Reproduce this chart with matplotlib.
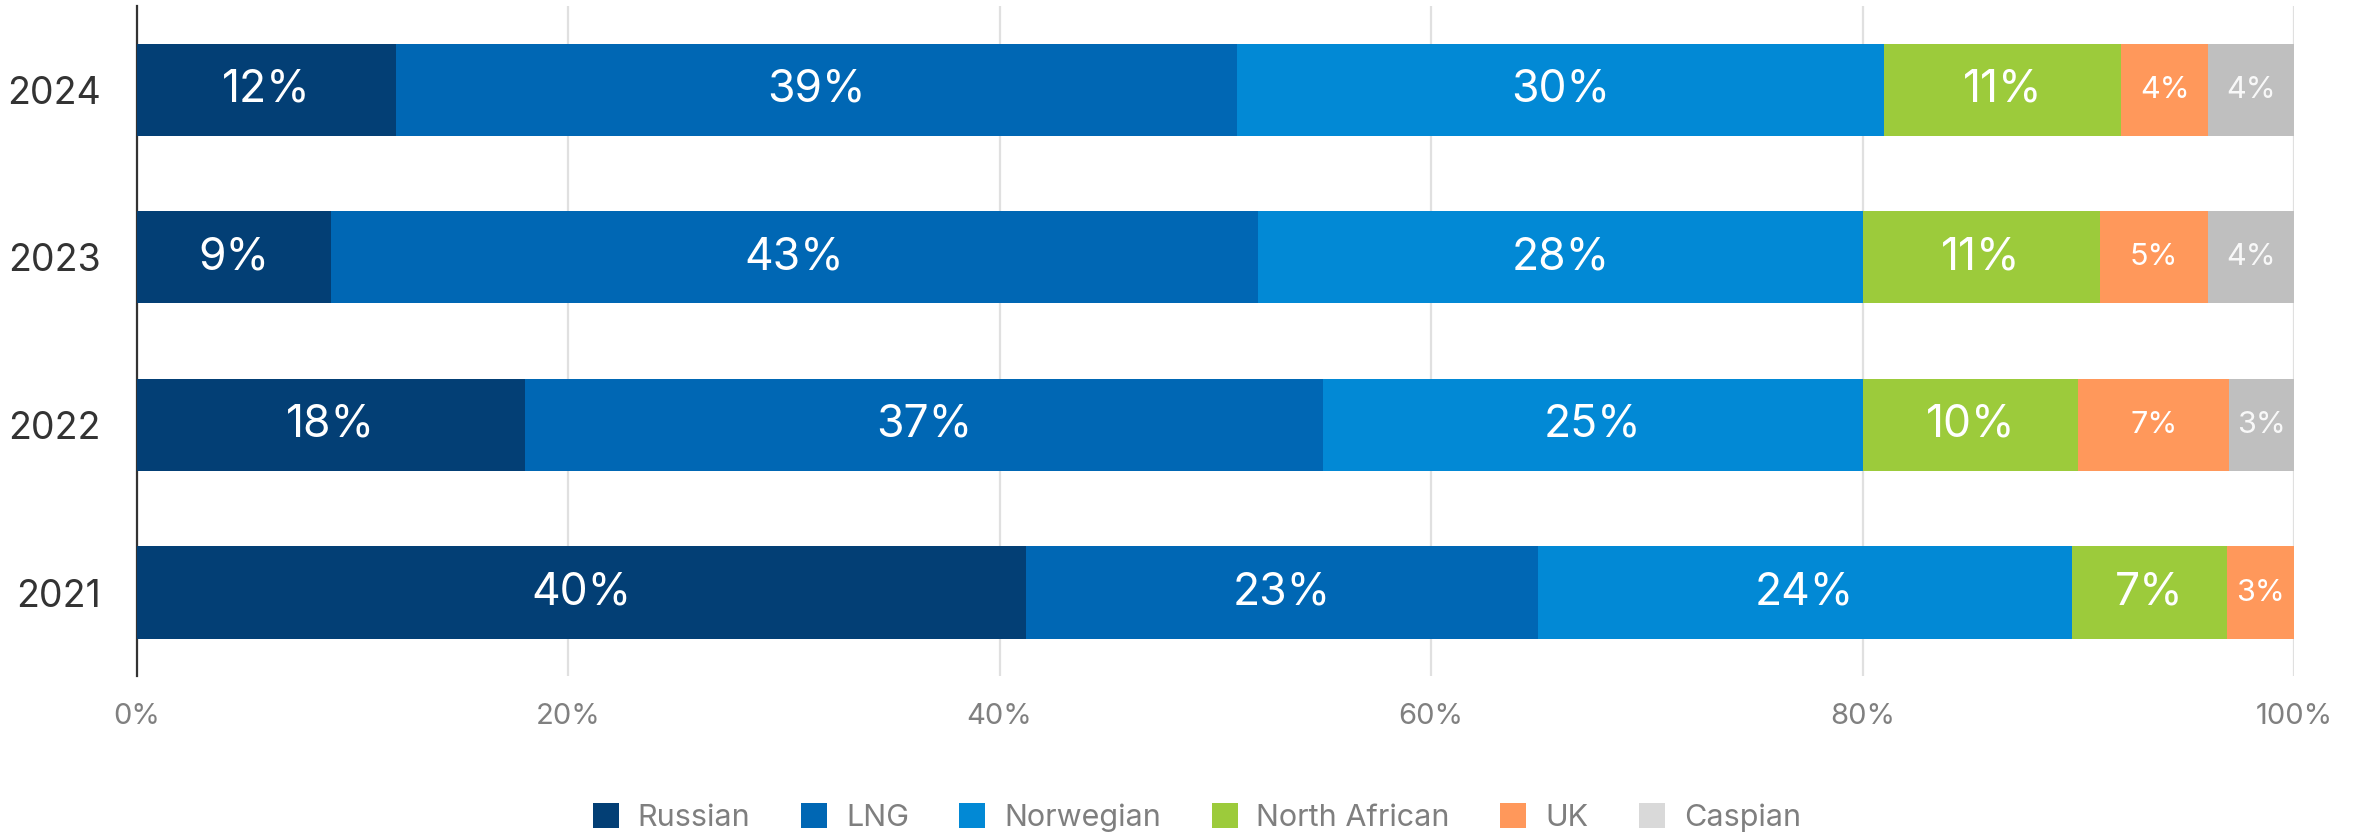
import numpy as np
import matplotlib.pyplot as plt
from matplotlib.patches import Patch
from matplotlib.ticker import PercentFormatter

# Data: share of gas supply by source (labels as published, bars normalised to 100%)
years = ['2021', '2022', '2023', '2024']
sources = ['Russian', 'LNG', 'Norwegian', 'North African', 'UK', 'Caspian']
russian = [40, 18, 9, 12]
lng = [23, 37, 43, 39]
norwegian = [24, 25, 28, 30]
north_african = [7, 10, 11, 11]
uk = [3, 7, 5, 4]
caspian = [0, 3, 4, 4]

bar_colors = ['#033f75', '#0067b4', '#0289d5', '#9ccb3b', '#ff985b', '#bfbfbf']
legend_colors = ['#033f75', '#0067b4', '#0289d5', '#9ccb3b', '#ff985b', '#d9d9d9']
small_label_sources = ['UK', 'Caspian']


def main():
    plt.rcParams['font.family'] = ['Inter', 'DejaVu Sans']

    series = [russian, lng, norwegian, north_african, uk, caspian]
    values = np.array(series, dtype=float)
    shares = values / values.sum(axis=0) * 100

    fig = plt.figure(figsize=(11.78, 4.18), dpi=200)
    ax = fig.add_axes([0.058, 0.191, 0.9157, 0.802])

    y = np.arange(len(years))
    left = np.zeros(len(years))
    for name, raw, share, color in zip(sources, values, shares, bar_colors):
        ax.barh(y, share, left=left, height=0.55, color=color, zorder=3)
        small = name in small_label_sources
        for yi, (r, s, l) in enumerate(zip(raw, share, left)):
            if r <= 0:
                continue
            ax.text(l + s / 2, yi, f'{int(r)}%', ha='center', va='center',
                    color='white', alpha=0.9 if name == 'Caspian' else 1.0,
                    fontsize=11 if small else 16, zorder=4)
        left += share

    ax.set_xlim(0, 100)
    ax.set_ylim(-0.5, len(years) - 0.5)
    ax.set_xticks(np.arange(0, 101, 20))
    ax.xaxis.set_major_formatter(PercentFormatter(100, decimals=0))
    ax.set_yticks(y)
    ax.set_yticklabels(years, fontsize=13.5, color='#333333')

    ax.tick_params(axis='x', length=0, pad=9.5, labelsize=10.5, labelcolor='#808080')
    ax.tick_params(axis='y', length=0, pad=13)
    ax.grid(axis='x', color='#e0e0e0', linewidth=0.8, zorder=0)
    ax.set_axisbelow(True)
    for side in ['top', 'right', 'bottom']:
        ax.spines[side].set_visible(False)
    ax.spines['left'].set_color('#333333')
    ax.spines['left'].set_linewidth(0.8)

    handles = [Patch(facecolor=c, label=s) for s, c in zip(sources, legend_colors)]
    fig.legend(handles=handles, loc='center', bbox_to_anchor=(0.508, 0.022),
               ncol=len(sources), frameon=False, fontsize=11, labelcolor='#7f7f7f',
               handlelength=0.85, handleheight=0.85, handletextpad=0.62,
               columnspacing=1.65)

    fig.savefig('out.png', dpi=200)


if __name__ == "__main__":
    main()
